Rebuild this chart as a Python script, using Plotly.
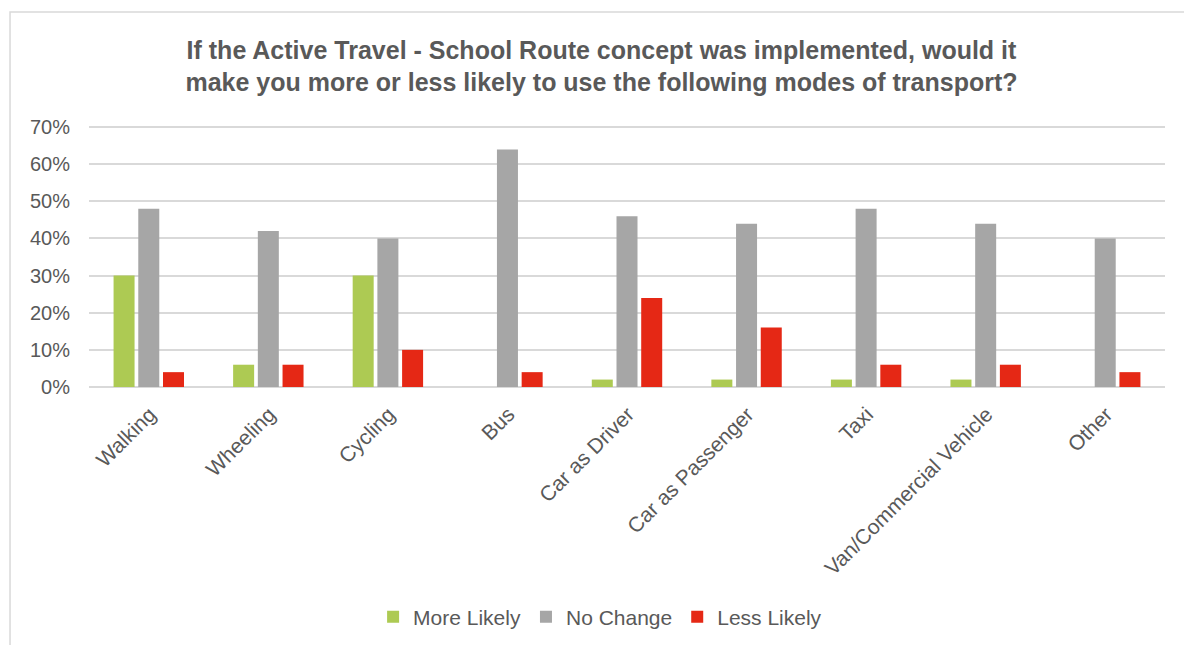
import plotly.graph_objects as go

categories = ["Walking", "Wheeling", "Cycling", "Bus", "Car as Driver",
              "Car as Passenger", "Taxi", "Van/Commercial Vehicle", "Other"]
more_likely = [30, 6, 30, 0, 2, 2, 2, 2, 0]
no_change = [48, 42, 40, 64, 46, 44, 48, 44, 40]
less_likely = [4, 6, 10, 4, 24, 16, 6, 6, 4]
y_ticks = [0, 10, 20, 30, 40, 50, 60, 70]

TEXT = "#595959"
FONT = "Liberation Sans, Arial, sans-serif"

fig = go.Figure()
for name, vals, color in [("More Likely", more_likely, "#ADCA53"),
                          ("No Change", no_change, "#A6A6A6"),
                          ("Less Likely", less_likely, "#E52815")]:
    fig.add_trace(go.Bar(x=categories, y=vals, name=name,
                         marker=dict(color=color, line=dict(width=0))))

fig.update_layout(
    width=1184, height=645,
    paper_bgcolor="white", plot_bgcolor="white",
    margin=dict(l=89, r=19, t=126, b=258, autoexpand=False),
    barmode="group", bargap=0.38, bargroupgap=0.15,
    font=dict(family=FONT, color=TEXT),
    title=dict(
        text="If the Active Travel - School Route concept was implemented, would it<br>"
             "make you more or less likely to use the following modes of transport?",
        font=dict(family=FONT, size=25, color=TEXT, weight="bold"),
        x=0.508, xanchor="center", xref="container",
        y=0.909, yanchor="middle", yref="container",
    ),
    xaxis=dict(tickangle=-45, tickfont=dict(size=21, color=TEXT),
               showgrid=False, showline=False, ticks="", automargin=False,
               ticklabelstandoff=10, ticklabelshift=1),
    yaxis=dict(range=[0, 70.3], tickvals=y_ticks,
               ticktext=[f"{v}%" for v in y_ticks],
               tickfont=dict(size=20, color=TEXT), automargin=False,
               showgrid=True, gridcolor="#D9D9D9", gridwidth=1.5,
               zeroline=True, zerolinecolor="#D9D9D9", zerolinewidth=1.5,
               ticks="", ticklabelstandoff=18),
    legend=dict(orientation="h", x=0.475, xanchor="center",
                y=-0.882, yanchor="middle",
                font=dict(size=21, color=TEXT),
                itemwidth=30, tracegroupgap=0),
    shapes=[dict(type="rect", xref="paper", yref="paper",
                 x0=-0.0734, x1=1.05, y0=-1.2, y1=1.437,
                 line=dict(color="#D9D9D9", width=1.5), layer="below")],
)

fig.write_html("out.html")
